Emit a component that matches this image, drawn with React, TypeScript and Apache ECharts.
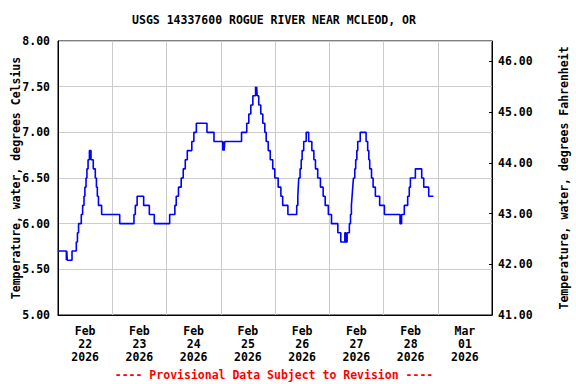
import React, { useEffect, useRef } from 'react';
import * as echarts from 'echarts';

const TITLE = 'USGS 14337600 ROGUE RIVER NEAR MCLEOD, OR';
const FOOTER = '---- Provisional Data Subject to Revision ----';
const Y_LEFT_NAME = 'Temperature, water, degrees Celsius';
const Y_RIGHT_NAME = 'Temperature, water, degrees Fahrenheit';

// day labels (each centred in its day)
const dayMonths = ['Feb', 'Feb', 'Feb', 'Feb', 'Feb', 'Feb', 'Feb', 'Mar'];
const dayNumbers = ['22', '23', '24', '25', '26', '27', '28', '01'];
const dayYears = ['2026', '2026', '2026', '2026', '2026', '2026', '2026', '2026'];

// hours since 2026-02-22 00:00 at which the reading changed, and the new reading (deg C)
const changeHours = [
  0, 3.7, 3.9, 4.1, 6.2, 8.1, 8.6, 9.1, 10.3, 10.9, 11.5, 11.9, 12.4, 12.8, 13.3, 13.9,
  14.6, 15.6, 16.5, 17.0, 17.4, 17.9, 19.3, 27.3, 33.6, 34.2, 35.0, 37.9, 40.4, 42.6,
  49.4, 51.7, 52.3, 53.3, 54.5, 55.4, 56.3, 57.2, 59.2, 60.1, 61.2, 65.9, 69.0,
  72.9, 73.2, 73.5, 73.8, 81.2, 83.5, 84.4, 85.3, 86.2, 87.4, 87.7, 87.9, 88.1,
  88.8, 89.7, 90.6, 91.5, 92.1, 93.0, 93.9, 95.0, 95.9, 97.4, 98.6, 99.4, 101.7,
  105.6, 106.1, 106.3, 106.5, 107.1, 107.6, 108.0, 108.7, 109.8, 110.9, 112.3, 113.2,
  113.9, 114.9, 116.1, 117.3, 118.2, 119.6, 121.0, 123.8, 125.1, 126.9, 127.3, 127.9,
  128.9, 129.4, 129.8, 130.1, 130.4, 130.7, 131.3, 131.7, 132.2, 132.6, 133.7, 136.3,
  137.0, 137.5, 137.9, 138.7, 139.4, 140.4, 142.3, 144.4, 151.3, 152.0, 153.2, 154.7,
  155.4, 155.9, 158.1, 160.9, 161.8, 164.0, 166.1,
];
const tempC = [
  5.7, 5.6, 5.7, 5.6, 5.7, 5.8, 5.9, 6.0, 6.1, 6.2, 6.3, 6.4, 6.5, 6.6, 6.7, 6.8,
  6.7, 6.6, 6.5, 6.4, 6.3, 6.2, 6.1, 6.0, 6.1, 6.2, 6.3, 6.2, 6.1, 6.0,
  6.1, 6.2, 6.3, 6.4, 6.5, 6.6, 6.7, 6.8, 6.9, 7.0, 7.1, 7.0, 6.9,
  6.8, 6.9, 6.8, 6.9, 7.0, 7.1, 7.2, 7.3, 7.4, 7.5, 7.4, 7.5, 7.4,
  7.3, 7.2, 7.1, 7.0, 6.9, 6.8, 6.7, 6.6, 6.5, 6.4, 6.3, 6.2, 6.1,
  6.2, 6.3, 6.4, 6.5, 6.6, 6.7, 6.8, 6.9, 7.0, 6.9, 6.8, 6.7,
  6.6, 6.5, 6.4, 6.3, 6.2, 6.1, 6.0, 5.9, 5.8, 5.9, 5.8, 5.9,
  6.0, 6.1, 6.2, 6.3, 6.4, 6.5, 6.6, 6.7, 6.8, 6.9, 7.0, 6.9,
  6.8, 6.7, 6.6, 6.5, 6.4, 6.3, 6.2, 6.1, 6.0, 6.1, 6.2, 6.3,
  6.4, 6.5, 6.6, 6.5, 6.4, 6.3, 6.3,
];

const fahrenheitTicks = [41, 42, 43, 44, 45, 46];

const FONT = '"DejaVu Sans Mono", monospace';
const FS = 11.5;

export default function App() {
  const ref = useRef<HTMLDivElement>(null);
  useEffect(() => {
    if (!ref.current) return;
    const chart = echarts.init(ref.current, null, { renderer: 'svg' });
    const data = changeHours.map((h, i) => [h, tempC[i]]);
    const dayLabels = dayMonths.map((m, i) => `${m}\n${dayNumbers[i]}\n${dayYears[i]}`);
    const labelStyle = { fontFamily: FONT, fontWeight: 'bold' as const, fontSize: FS, color: '#000' };
    chart.setOption({
      animation: false,
      backgroundColor: '#fff',
      grid: {
        left: 58, top: 41, width: 434, height: 274,
        containLabel: false, outerBoundsMode: 'none',
        show: true, borderColor: '#000', borderWidth: 1, backgroundColor: 'transparent',
      },
      graphic: [
        {
          type: 'text', x: 274, y: 19.5,
          style: {
            text: TITLE, font: `bold ${FS}px ${FONT}`, fill: '#000',
            align: 'center', verticalAlign: 'middle',
          },
        },
        {
          type: 'text', x: 274, y: 375,
          style: {
            text: FOOTER, font: `bold ${FS}px ${FONT}`, fill: '#ff0000',
            align: 'center', verticalAlign: 'middle',
          },
        },
      ],
      xAxis: [
        {
          type: 'value', min: 0, max: 192, interval: 24,
          axisLine: { show: true, lineStyle: { color: '#000', width: 1 } },
          axisTick: { show: false },
          axisLabel: { show: false },
          splitLine: { show: true, lineStyle: { color: '#cccccc', width: 1 } },
        },
        {
          type: 'category', data: dayLabels, boundaryGap: true, position: 'bottom',
          axisLine: { show: false }, axisTick: { show: false },
          splitLine: { show: false },
          axisLabel: { ...labelStyle, lineHeight: 13, margin: 9, interval: 0 },
        },
      ],
      yAxis: [
        {
          type: 'value', min: 5, max: 8, interval: 0.5, position: 'left',
          name: Y_LEFT_NAME, nameLocation: 'middle', nameGap: 36, nameMoveOverlap: false,
          nameTextStyle: { ...labelStyle },
          axisLine: { show: true, lineStyle: { color: '#000', width: 1 } },
          axisTick: { show: false },
          axisLabel: { ...labelStyle, margin: 8, formatter: (v: number) => v.toFixed(2) },
          splitLine: { show: true, lineStyle: { color: '#cccccc', width: 1 } },
        },
        {
          type: 'value', min: 41, max: 46.4, position: 'right',
          name: Y_RIGHT_NAME, nameLocation: 'middle', nameGap: 66, nameMoveOverlap: false,
          nameTextStyle: { ...labelStyle },
          axisLine: { show: true, lineStyle: { color: '#000', width: 1 } },
          axisTick: { show: true, inside: true, length: 3, customValues: fahrenheitTicks, lineStyle: { color: '#000' } },
          axisLabel: { ...labelStyle, margin: 6, customValues: fahrenheitTicks, formatter: (v: number) => v.toFixed(2) },
          splitLine: { show: false },
        },
      ],
      series: [
        {
          type: 'line', xAxisIndex: 0, yAxisIndex: 0, data, step: 'end',
          showSymbol: false, symbol: 'none',
          lineStyle: { color: '#0000ff', width: 1.6 },
          itemStyle: { color: '#0000ff' },
        },
      ],
    });
    return () => chart.dispose();
  }, []);
  return (
    <div
      ref={ref}
      style={{ position: 'fixed', left: 0, top: 0, width: 576, height: 384, background: '#fff' }}
    />
  );
}
